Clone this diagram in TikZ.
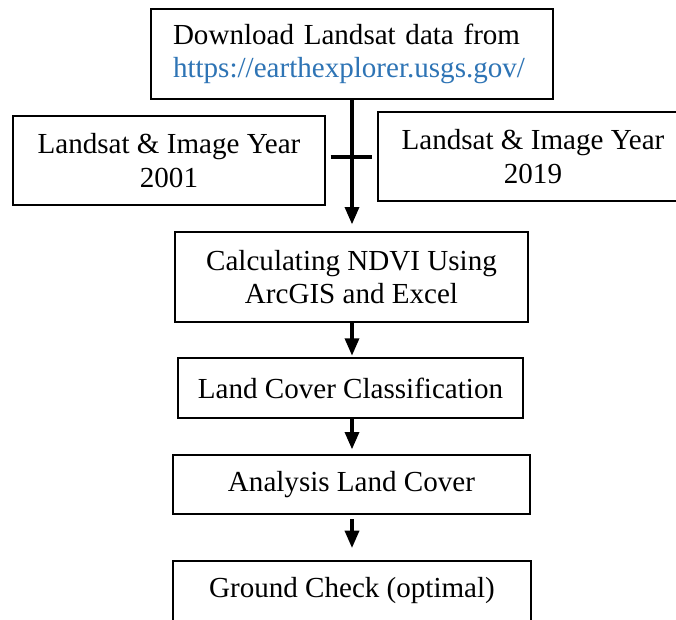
\documentclass[tikz,border=0pt]{standalone}
\usepackage{fontspec}
\setmainfont{Liberation Serif}
\usetikzlibrary{arrows.meta}
\definecolor{urlblue}{RGB}{46,116,181}
\tikzset{
  box/.style={draw=black, line width=1.5pt, rectangle, inner sep=0pt, align=center,
    font=\fontsize{21.8}{25}\selectfont},
  arr/.style={line width=2.5pt, -{Triangle[length=13pt,width=10.5pt]}},
  bar/.style={line width=3pt}
}
\begin{document}
\begin{tikzpicture}[x=0.75pt,y=-0.75pt]
\clip (0,0) rectangle (676,619);
\fill[white] (0,0) rectangle (676,619);
\node[box, minimum width=301.5pt, minimum height=67.5pt, text width=268.5pt, align=left] (top) at (352,54)
  {Download Landsat data from\\ \textcolor{urlblue}{https://earthexplorer.usgs.gov/}};
\node[box, minimum width=234pt, minimum height=66.75pt] (left) at (169,160.5) {Landsat \& Image Year\\2001};
\node[box, minimum width=232.5pt, minimum height=66.75pt] (right) at (533,156.5) {Landsat \& Image Year\\2019};
\node[box, minimum width=264.75pt, minimum height=67.5pt] (ndvi) at (351.5,277) {Calculating NDVI Using\\ArcGIS and Excel};
\node[box, minimum width=258.75pt, minimum height=45pt] (land) at (350.5,388) {Land Cover Classification};
\node[box, minimum width=267.75pt, minimum height=44.25pt] (anal) at (351.5,484.5) {Analysis Land Cover};
\node[box, minimum width=268.5pt, minimum height=45pt] (ground) at (352,591) {Ground Check (optimal)};
\draw[arr, shorten >=5pt] (top.south) -- (top.south |- ndvi.north);
\draw[bar] ([xshift=3.5pt]left.east |- 0,157) -- ([xshift=-3.5pt]right.west |- 0,157);
\draw[arr, shorten >=1pt] (ndvi.south -| top.south) -- (land.north -| top.south);
\draw[arr, shorten >=3.5pt] (land.south -| top.south) -- (anal.north -| top.south);
\draw[arr, shorten <=3pt, shorten >=9pt] (anal.south -| top.south) -- (ground.north -| top.south);
\end{tikzpicture}
\end{document}
